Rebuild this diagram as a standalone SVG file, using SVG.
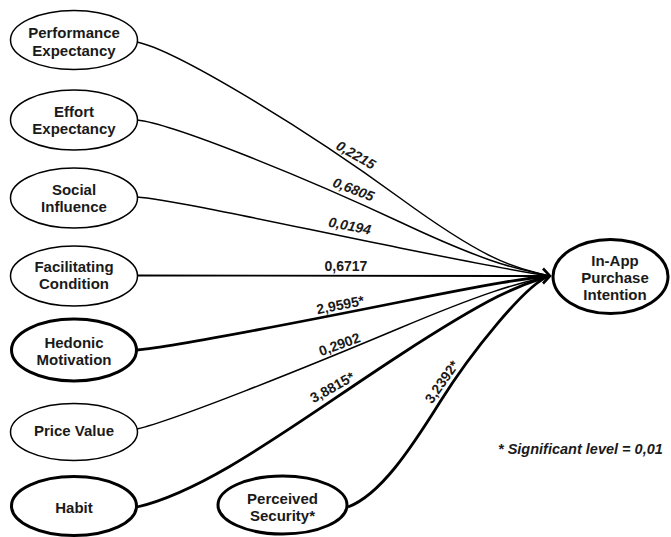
<svg xmlns="http://www.w3.org/2000/svg" width="671" height="537" viewBox="0 0 671 537">
<style>
  .bg{fill:#fff}
  .n{fill:#fff;stroke:#000;stroke-width:1.5}
  .nt{fill:#fff;stroke:#000;stroke-width:3}
  .t{font-family:"Liberation Sans",Arial,Helvetica,sans-serif;font-weight:bold;font-size:15px;fill:#1a1a1a;text-anchor:middle}
  .e{fill:none;stroke:#000;stroke-width:1.5}
  .et{fill:none;stroke:#000;stroke-width:2.8}
  .l{font-family:"Liberation Sans",Arial,Helvetica,sans-serif;font-weight:bold;font-size:14px;fill:#1a1a1a;text-anchor:middle}
  .i{font-style:italic}
  .lg{font-family:"Liberation Sans",Arial,Helvetica,sans-serif;font-weight:bold;font-style:italic;font-size:14.5px;fill:#1a1a1a}
</style>
<rect class="bg" x="0" y="0" width="671" height="537"/>

<g id="connectors">
  <path class="e" d="M137,42 C175,50 300,125 400,198 S522,268 549,276"/>
  <path class="e" d="M137,120 C170,123 300,175 400,222 S522,269 549,276"/>
  <path class="e" d="M137,197 C170,199 300,228 400,248 S522,272 549,276"/>
  <path class="e" style="stroke-width:1.9" d="M137,275.5 L549,276"/>
  <path class="et" d="M137,350 C170,347 300,322 400,302 S522,279 549,276"/>
  <path class="e" d="M137,429 C175,420 300,370 400,328 S522,283 549,276"/>
  <path class="et" d="M137,507 C210,490 300,420 400,355 S522,285 549,276"/>
  <path class="et" d="M348,507 C380,495 410,450 440,402 S525,285 549,276"/>
  <path fill="none" stroke="#000" stroke-width="2.6" d="M543,268.5 L550,276 L543,283.5"/>
  <text class="l i" transform="translate(351,163.5) rotate(30)" x="0" y="-5">0,2215</text>
  <text class="l i" transform="translate(350,198.5) rotate(21)" x="0" y="-5">0,6805</text>
  <text class="l i" transform="translate(348,235) rotate(11)" x="0" y="-4.5">0,0194</text>
  <text class="l" x="346" y="270.5">0,6717</text>
  <text class="l" transform="translate(342,313.6) rotate(-11)" x="0" y="-4">2,9595*</text>
  <text class="l" transform="translate(342.5,352.7) rotate(-20)" x="0" y="-4">0,2902</text>
  <text class="l" transform="translate(337,396) rotate(-29)" x="0" y="-5">3,8815*</text>
  <text class="l" transform="translate(449,387) rotate(-55)" x="0" y="-4">3,2392*</text>
</g>

<g id="performance-expectancy">
  <ellipse class="n" cx="74" cy="40" rx="63.5" ry="29.5"/>
  <text class="t" x="74" y="38">Performance</text>
  <text class="t" x="74" y="56">Expectancy</text>
</g>
<g id="effort-expectancy">
  <ellipse class="n" cx="74" cy="120" rx="63.5" ry="30"/>
  <text class="t" x="74" y="117">Effort</text>
  <text class="t" x="74" y="134">Expectancy</text>
</g>
<g id="social-influence">
  <ellipse class="n" cx="74" cy="198" rx="63.5" ry="30"/>
  <text class="t" x="74" y="195">Social</text>
  <text class="t" x="74" y="212">Influence</text>
</g>
<g id="facilitating-condition">
  <ellipse class="n" cx="74" cy="276" rx="63.5" ry="30"/>
  <text class="t" x="74" y="272">Facilitating</text>
  <text class="t" x="74" y="289">Condition</text>
</g>
<g id="hedonic-motivation">
  <ellipse class="nt" cx="74" cy="350" rx="62.5" ry="31"/>
  <text class="t" x="74" y="348">Hedonic</text>
  <text class="t" x="74" y="365">Motivation</text>
</g>
<g id="price-value">
  <ellipse class="n" cx="74" cy="432" rx="63.5" ry="28.5"/>
  <text class="t" x="74" y="435.5">Price Value</text>
</g>
<g id="habit">
  <ellipse class="nt" cx="74" cy="506" rx="62.5" ry="29.5"/>
  <text class="t" x="74" y="513">Habit</text>
</g>
<g id="perceived-security">
  <ellipse class="nt" cx="282.5" cy="505" rx="64.5" ry="29"/>
  <text class="t" x="282.5" y="504">Perceived</text>
  <text class="t" x="282.5" y="521">Security*</text>
</g>
<g id="in-app-purchase-intention">
  <ellipse class="nt" cx="610.5" cy="276.5" rx="57.5" ry="37"/>
  <text class="t" x="615" y="265.5">In-App</text>
  <text class="t" x="615" y="283">Purchase</text>
  <text class="t" x="615" y="300">Intention</text>
</g>

<text class="lg" x="498" y="454">* Significant level = 0,01</text>
</svg>
